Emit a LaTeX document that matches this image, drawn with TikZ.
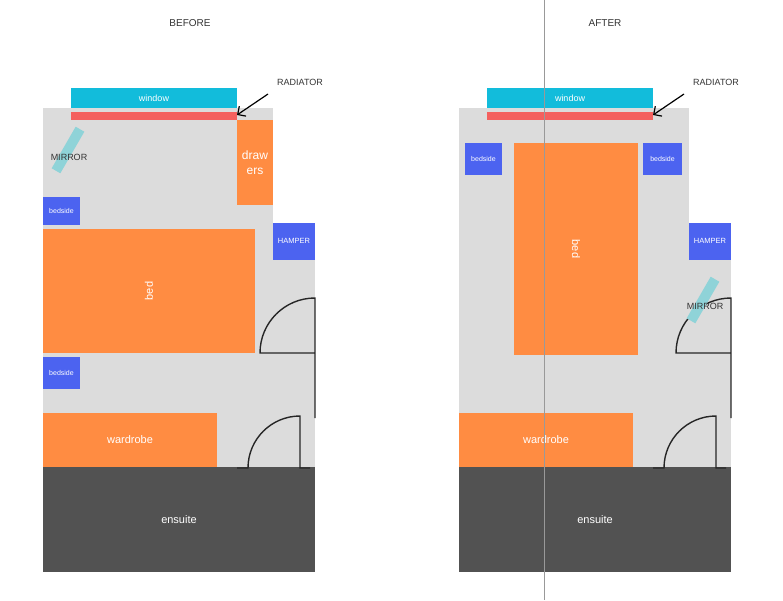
\documentclass[tikz,border=0pt]{standalone}
\usepackage{fontspec}
\setmainfont{Liberation Sans}
\usetikzlibrary{arrows.meta}
\definecolor{floor}{HTML}{DCDCDC}
\definecolor{wood}{HTML}{FF8C42}
\definecolor{blu}{HTML}{4C63F0}
\definecolor{glass}{HTML}{12BCDB}
\definecolor{heat}{HTML}{F4605E}
\definecolor{mirr}{HTML}{8FD3D8}
\definecolor{tiles}{HTML}{525252}
\tikzset{
  room/.style={fill=floor,draw=none},
  furn/.style={fill=wood,draw=none,text=white,font=\fontsize{11}{12}\selectfont},
  small/.style={fill=blu,draw=none,text=white,font=\fontsize{7}{8}\selectfont},
  door/.style={draw=black!85,line width=1.4pt},
  lbl/.style={font=\fontsize{9}{10}\selectfont,text=black!80}
}
\begin{document}
\begin{tikzpicture}[x=1pt,y=-1pt]
\useasboundingbox (0,0) rectangle (783,600);
\node[lbl,font=\fontsize{10}{12}\selectfont] (before) at (190,23) {BEFORE};
\node[lbl,font=\fontsize{10}{12}\selectfont] (after) at (605,23) {AFTER};
%% both plans share walls, window, wardrobe, ensuite and doors
\foreach \dx in {0,416}{
\begin{scope}[xshift=\dx]
\fill[floor] (43,108) rectangle (273,223);
\fill[floor] (43,223) rectangle (315,467);
\node[fill=glass,text=white,minimum width=166,minimum height=20,inner sep=0,font=\fontsize{9}{10}\selectfont] (window) at (154,98) {window};
\fill[heat] (71,112) rectangle (237,120);
\coordinate (radend) at (237,115);
\node[lbl] (radiator) at (300,82) {RADIATOR};
\draw[line width=1.2pt,-{Straight Barb[length=6pt]}] (268,94) -- (radend);
\node[small,minimum width=42,minimum height=37,inner sep=0,font=\fontsize{7.5}{8}\selectfont] (hamper) at (294,241) {HAMPER};
\node[furn,minimum width=174,minimum height=55,inner sep=0] (wardrobe) at (130,440) {wardrobe};
\node[fill=tiles,text=white,minimum width=272,minimum height=105,inner sep=0,font=\fontsize{11}{12}\selectfont] (ensuite) at (179,519.5) {ensuite};
\draw[door] (315,342) -- (315,353) -- (260,353) arc[start angle=180,end angle=270,radius=55] -- (315,418);
\draw[door] (237,468) -- (248,468) arc[start angle=180,end angle=270,radius=52] coordinate (dfoot) -- (300,468) -- (310,468);
\end{scope}}
%% before
\node[furn,minimum width=36,minimum height=85,inner sep=0,align=center,font=\fontsize{12}{15}\selectfont] (drawers) at (255,162.5) {draw\\ers};
\fill[mirr,rotate around={-30:(68,150)}] (63,126) rectangle (73,174);
\node[lbl] (mirror) at (69,157) {MIRROR};
\node[small,minimum width=37,minimum height=28,inner sep=0] (bedsideA) at (61.5,211) {bedside};
\node[furn,minimum width=212,minimum height=124,inner sep=0] (bedA) at (149,291) {\rotatebox{90}{bed}};
\node[small,minimum width=37,minimum height=32,inner sep=0] (bedsideB) at (61.5,373) {bedside};
%% after
\node[small,minimum width=37,minimum height=32,inner sep=0] (bedsideC) at (483.5,159) {bedside};
\node[small,minimum width=39,minimum height=32,inner sep=0] (bedsideD) at (662.5,159) {bedside};
\node[furn,minimum width=124,minimum height=212,inner sep=0] (bedB) at (576,249) {\rotatebox{-90}{bed}};
\fill[mirr,rotate around={-30:(703,300)}] (698,276) rectangle (708,324);
\node[lbl] (mirrorB) at (705,306) {MIRROR};
\draw[black!40,line width=0.6pt] (544,0) -- (544,600);
\end{tikzpicture}
\end{document}
